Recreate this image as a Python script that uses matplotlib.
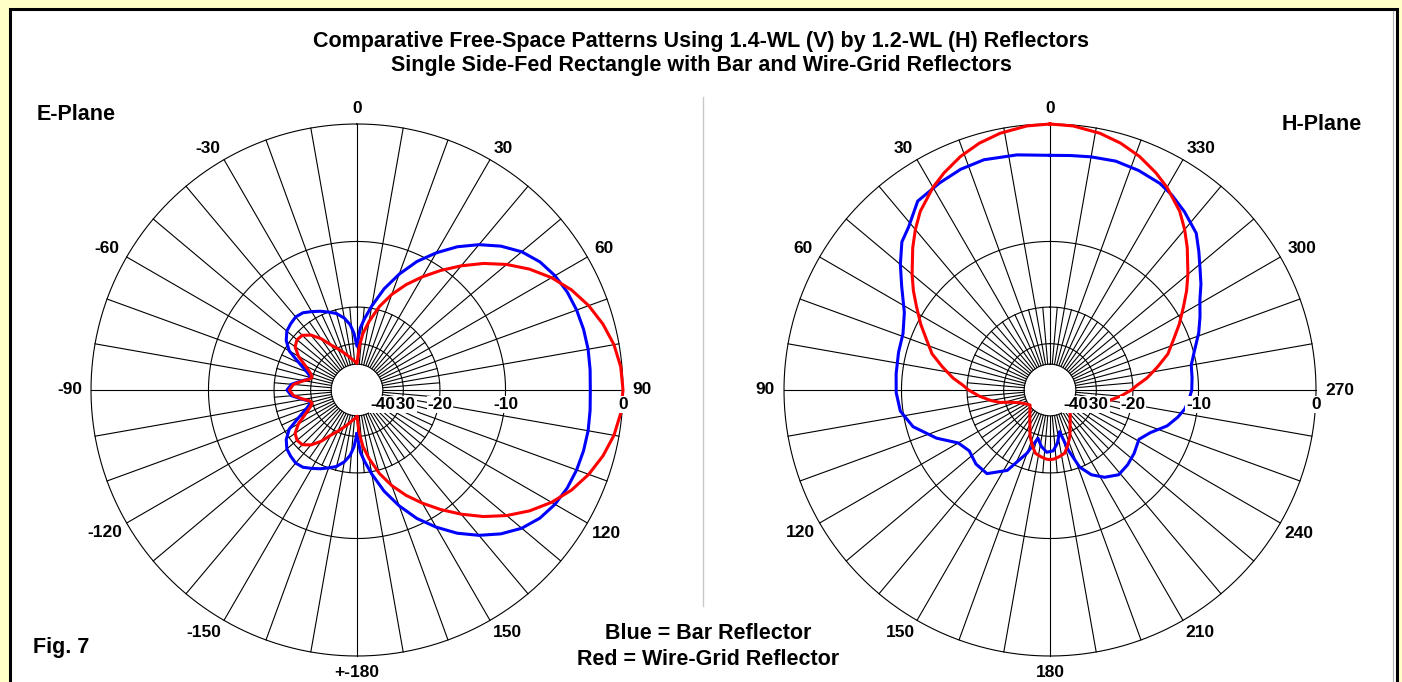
import numpy as np
import matplotlib
matplotlib.use("Agg")
import matplotlib.pyplot as plt
from matplotlib.patches import Rectangle
from matplotlib.lines import Line2D

# ---------------- data ----------------
title_line1 = "Comparative Free-Space Patterns Using 1.4-WL (V) by 1.2-WL (H) Reflectors"
title_line2 = "Single Side-Fed Rectangle with Bar and Wire-Grid Reflectors"
legend_line1 = "Blue = Bar Reflector"
legend_line2 = "Red = Wire-Grid Reflector"

# E-plane (symmetric about the 90/-90 axis): forward half 0..90 deg
e_fwd_ang = [0, 3, 6, 10, 15, 20, 25, 30, 35, 40, 45, 50, 55, 60, 65, 70, 75, 80, 85, 90]
e_fwd_blue = [-31.0, -25.0, -22.5, -19.5, -16.0, -13.2, -10.8, -8.9, -7.2, -5.8, -4.6, -3.65,
              -3.0, -2.6, -2.35, -2.22, -2.16, -2.15, -2.2, -2.25]
e_fwd_red = [-39.5, -31.0, -26.5, -23.0, -19.3, -16.5, -14.2, -12.2, -10.3, -8.5, -6.8, -5.3,
             -4.0, -2.9, -2.0, -1.3, -0.75, -0.33, -0.08, 0.0]
# E-plane rear half 0..-90 deg
e_back_ang = [0, -3, -6, -10, -15, -20, -25, -30, -35, -40, -45, -50, -55, -60, -65, -70, -74,
              -77, -81, -85, -90]
e_back_blue = [-31.0, -26.5, -24.0, -22.2, -20.8, -20.0, -19.2, -18.5, -17.8, -17.6, -17.9,
               -18.3, -19.3, -21.0, -24.5, -27.5, -29.2, -29.0, -26.5, -24.0, -22.9]
e_back_red = [-39.5, -38.7, -37.8, -36.5, -34.5, -32.5, -30.3, -28.0, -24.8, -22.5, -21.2,
              -21.0, -21.6, -23.5, -26.5, -28.8, -29.8, -29.2, -26.8, -24.5, -23.5]

# H-plane blue (full circle, degrees counter-clockwise)
h_blue_ang = [0, 8, 16, 22, 28, 35, 41, 45, 50, 55, 62, 69, 76, 84, 91, 98, 105, 113, 120, 127,
              135, 143, 152, 160, 166, 171, 177, 183, 188, 193, 197, 201, 206, 212, 219, 226,
              233, 241, 247, 253, 258, 262, 266, 270, 275, 280, 285, 291, 296, 301, 305, 309,
              313, 317, 323, 328, 332, 338, 344, 350, 355]
h_blue_db = [-2.15, -1.95, -1.8, -1.9, -2.15, -2.45, -3.6, -4.1, -5.3, -6.6, -8.2, -9.0, -9.15,
             -9.3, -9.4, -9.7, -10.8, -13.2, -15.8, -16.6, -16.0, -16.0, -18.4, -23.6, -28.8,
             -26.5, -24.9, -25.3, -27.5, -31.4, -24.7, -20.1, -17.8, -16.3, -15.3, -15.5,
             -15.9, -16.5, -15.3, -13.3, -12.2, -11.5, -11.1, -10.8, -10.7, -10.6, -9.9, -8.8,
             -8.0, -7.2, -6.3, -5.5, -4.6, -3.7, -3.0, -2.5, -2.2, -2.0, -1.9, -2.0, -2.1]
# H-plane red (symmetric about 0/180): half 0..180
h_red_ang = [0, 5, 11, 16, 21, 26, 30, 36, 40, 44, 50, 54, 58, 63, 68, 73, 78, 83, 87, 90, 95,
             100, 104, 107, 113, 119, 127, 135, 141, 150, 157, 163, 167, 172, 177, 180]
h_red_db = [0.0, -0.06, -0.29, -0.61, -1.06, -1.65, -2.2, -3.2, -4.1, -5.1, -6.7, -7.8, -9.0,
            -10.4, -11.9, -13.2, -15.2, -17.2, -19.2, -20.3, -22.7, -25.5, -28.2, -31.8, -36.0,
            -38.4, -40.6, -38.5, -36.3, -32.4, -28.4, -25.8, -24.2, -23.6, -23.1, -23.0]

ring_db = [0, -10, -20, -30, -40]
ring_labels = ["0", "-10", "-20", "-30", "-40"]
e_tick_ang = [0, 30, 60, 90, 120, 150, 180, -150, -120, -90, -60, -30]
e_tick_lbl = ["0", "30", "60", "90", "120", "150", "+-180", "-150", "-120", "-90", "-60", "-30"]
h_tick_ang = [0, 30, 60, 90, 120, 150, 180, 210, 240, 270, 300, 330]
h_tick_lbl = ["0", "30", "60", "90", "120", "150", "180", "210", "240", "270", "300", "330"]

# ---------------- helpers ----------------
W, H, DPI = 1402, 682, 100
FONT = ["Liberation Sans", "DejaVu Sans"]
BLUE = "#0000FF"
RED = "#FF0000"
TICK_FS = 12.5
R_PX = 266.0


def arrl(db):
    """ARRL log-periodic radial scale: 0.89 per 2 dB."""
    return 0.89 ** (-np.asarray(db, dtype=float) / 2.0)


def fx(x):
    return x / W


def fy(y):
    return 1.0 - y / H


fig = plt.figure(figsize=(W / DPI, H / DPI), dpi=DPI, facecolor="#FFFFC8")

# white panel with black frame
panel = Rectangle((fx(9.5), fy(700)), fx(1396.5) - fx(9.5), fy(8.5) - fy(700),
                  transform=fig.transFigure, facecolor="white", edgecolor="black",
                  linewidth=2.2, zorder=-10)
fig.add_artist(panel)
fig.add_artist(Line2D([fx(1393), fx(1393)], [fy(11), fy(690)], transform=fig.transFigure,
                      color="#B0B0B0", lw=0.8, zorder=-9))
# divider
fig.add_artist(Line2D([fx(703), fx(703)], [fy(97), fy(606)], transform=fig.transFigure,
                      color="#C8C8C8", lw=1.0, zorder=-9))


def make_polar(cx, cy, R, direction):
    ax = fig.add_axes([(cx - R) / W, (H - cy - R) / H, 2 * R / W, 2 * R / H],
                      projection="polar")
    ax.set_theta_zero_location("N")
    ax.set_theta_direction(direction)
    ax.set_ylim(0, 1)
    ax.set_axis_off()
    th = np.linspace(0, 2 * np.pi, 1441)
    for d in ring_db:
        ax.plot(th, np.full_like(th, arrl(d)), color="black", lw=0.8, clip_on=False, zorder=1)
    r_in = arrl(-40)
    r_mid = arrl(-20)
    for a in range(0, 360, 5):
        r_out = 1.0 if a % 10 == 0 else r_mid
        ax.plot([np.deg2rad(a)] * 2, [r_in, r_out], color="black", lw=0.8, clip_on=False,
                zorder=1)
    return ax


def label_polar(ax, tick_ang, tick_lbl, ring_ang, direction):
    for a, t in zip(tick_ang, tick_lbl):
        rad = np.deg2rad(a)
        sx = -direction * np.sin(rad)      # screen x direction (+ right)
        sy = np.cos(rad)                   # screen y direction (+ up)
        vertical = abs(sx) < 1e-6
        if vertical:
            ha = "center"
        else:
            ha = "left" if sx > 0 else "right"
        if abs(sy) < 1e-6:
            va, r0 = "center", 275.0
        elif sy > 0:
            va, r0 = "baseline", (277.0 if vertical else 274.0)
        else:
            va, r0 = "top", (275.0 if vertical else 271.0)
        ax.text(rad, r0 / R_PX, t, ha=ha, va=va, fontsize=TICK_FS, fontweight="bold",
                family=FONT, clip_on=False)
    for i, (d, t) in enumerate(zip(ring_db, ring_labels)):
        ax.annotate(t, xy=(np.deg2rad(ring_ang), arrl(d)), xytext=(0, -10.6),
                    textcoords="offset points", ha="center", va="center", fontsize=TICK_FS,
                    fontweight="bold", family=FONT, annotation_clip=False, zorder=5 + i,
                    bbox=dict(boxstyle="square,pad=0.05", fc="white", ec="none"))


# ---------------- E-plane ----------------
axE = make_polar(357, 390, R_PX, -1)
e_ang_full = np.concatenate([
    -180 - np.array(e_back_ang, float),
    np.array(e_back_ang[::-1], float),
    np.array(e_fwd_ang, float),
    180 - np.array(e_fwd_ang[::-1], float),
])
for vals_back, vals_fwd, col in [(e_back_blue, e_fwd_blue, BLUE), (e_back_red, e_fwd_red, RED)]:
    v = np.concatenate([vals_back, vals_back[::-1], vals_fwd, vals_fwd[::-1]])
    axE.plot(np.deg2rad(e_ang_full), arrl(v), color=col, lw=2.2, clip_on=False, zorder=3,
             solid_joinstyle="round")
label_polar(axE, e_tick_ang, e_tick_lbl, 90, -1)

# ---------------- H-plane ----------------
axH = make_polar(1050, 390, R_PX, 1)
hb_a = np.array(h_blue_ang + [360], float)
hb_v = np.array(h_blue_db + [h_blue_db[0]], float)
axH.plot(np.deg2rad(hb_a), arrl(hb_v), color=BLUE, lw=2.2, clip_on=False, zorder=3,
         solid_joinstyle="round")
hr_a = np.concatenate([np.array(h_red_ang, float), 360 - np.array(h_red_ang[::-1], float)])
hr_v = np.concatenate([np.array(h_red_db, float), np.array(h_red_db[::-1], float)])
axH.plot(np.deg2rad(hr_a), arrl(hr_v), color=RED, lw=2.2, clip_on=False, zorder=3,
         solid_joinstyle="round")
label_polar(axH, h_tick_ang, h_tick_lbl, 270, 1)

# ---------------- texts ----------------
tkw = dict(fontsize=15.5, fontweight="bold", family=FONT)
fig.text(fx(701), fy(47.3), title_line1, ha="center", va="baseline", **tkw)
fig.text(fx(701), fy(71.5), title_line2, ha="center", va="baseline", **tkw)
fig.text(fx(37), fy(120.5), "E-Plane", ha="left", va="baseline", **tkw)
fig.text(fx(1362), fy(130.5), "H-Plane", ha="right", va="baseline", **tkw)
fig.text(fx(33), fy(652.5), "Fig. 7", ha="left", va="baseline", **tkw)
fig.text(fx(708), fy(639), legend_line1, ha="center", va="baseline", **tkw)
fig.text(fx(708), fy(665), legend_line2, ha="center", va="baseline", **tkw)

fig.savefig("out.png", dpi=DPI, facecolor=fig.get_facecolor())
